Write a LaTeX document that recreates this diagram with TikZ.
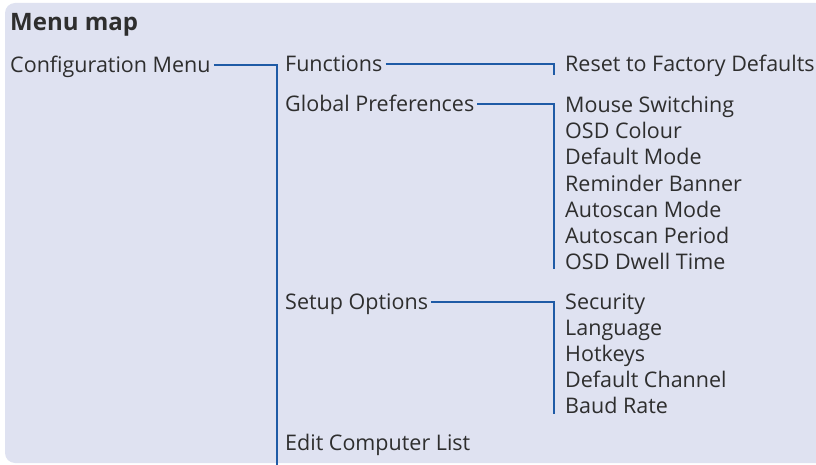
\documentclass[tikz,border=0pt]{standalone}
\usepackage{fontspec}
\setmainfont{Open Sans}
\usetikzlibrary{calc}
\definecolor{bg}{HTML}{DFE2F1}
\definecolor{ln}{HTML}{1F5BA6}
\definecolor{tx}{HTML}{2E2E2E}
\begin{document}
\begin{tikzpicture}[x=1pt,y=-1pt,
  lbl/.style={anchor=base west, inner sep=0pt, text=tx, font=\fontsize{21.5}{21.5}\selectfont},
  ttl/.style={lbl, font=\bfseries\fontsize{24}{24}\selectfont},
  conn/.style={draw=ln, line width=2pt}]
\useasboundingbox (0,0) rectangle (816,465);
\fill[bg, rounded corners=10pt] (5,3) rectangle (830,463);
\node[ttl] (title) at (10,30.5) {Menu map};
\node[lbl] (cfg) at (10,72.5) {Configuration Menu};
% level 1
\node[lbl] (fn) at (285,72) {Functions};
\node[lbl] (gp) at (285,112) {Global Preferences};
\node[lbl] (so) at (285,309.5) {Setup Options};
\node[lbl] (ecl) at (285,450) {Edit Computer List};
% level 2
\node[lbl] (rst) at (565,72) {Reset to Factory Defaults};
\node[lbl] (ms) at (565,112.5) {Mouse Switching};
\node[lbl] (oc) at (565,138.7) {OSD Colour};
\node[lbl] (dm) at (565,164.9) {Default Mode};
\node[lbl] (rb) at (565,191.1) {Reminder Banner};
\node[lbl] (am) at (565,217.3) {Autoscan Mode};
\node[lbl] (ap) at (565,243.5) {Autoscan Period};
\node[lbl] (odt) at (565,269.7) {OSD Dwell Time};
\node[lbl] (sec) at (565,309.5) {Security};
\node[lbl] (lang) at (565,335.5) {Language};
\node[lbl] (hk) at (565,361.5) {Hotkeys};
\node[lbl] (dc) at (565,387.5) {Default Channel};
\node[lbl] (br) at (565,413.5) {Baud Rate};
% connectors
\coordinate (trunkend) at (276.5,466);
\draw[conn] ($(cfg.base east)+(3,-7.5)$) -| (trunkend);
\draw[conn] ($(fn.base east)+(3,-7.5)$) -| ($(rst.base west)+(-11,3)$);
\draw[conn] ($(gp.base east)+(3,-7.5)$) -| ($(odt.base west)+(-11,-1)$);
\draw[conn] ($(so.base east)+(3,-7.5)$) -| ($(br.base west)+(-11,0.5)$);
\end{tikzpicture}
\end{document}
